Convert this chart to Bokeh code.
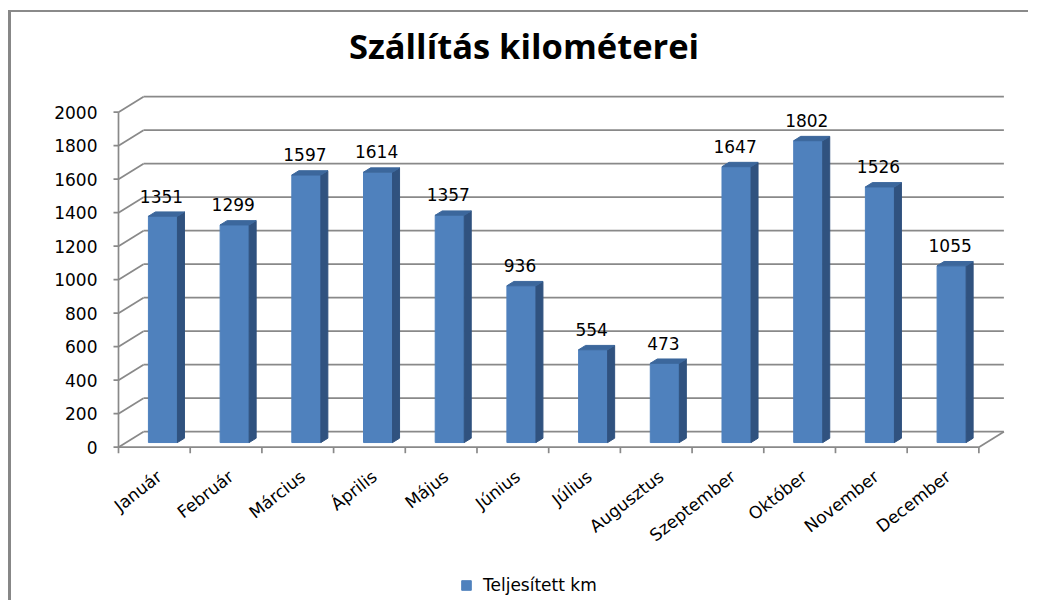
import math
from bokeh.plotting import figure
from bokeh.models import FixedTicker, Legend, LegendItem, Range1d, Label
from bokeh.embed import file_html
from bokeh.resources import INLINE
from bokeh.core.properties import value

# ---- data ----
title_text = "Szállítás kilométerei"
months = ["Január", "Február", "Március", "Április", "Május", "Június",
          "Július", "Augusztus", "Szeptember", "Október", "November", "December"]
km = [1351, 1299, 1597, 1614, 1357, 936, 554, 473, 1647, 1802, 1526, 1055]
y_ticks = [0, 200, 400, 600, 800, 1000, 1200, 1400, 1600, 1800, 2000]
series_name = "Teljesített km"

# ---- 3D geometry (depth expressed in data units) ----
DX = 0.349      # depth shift, category units
DY = 92.5       # depth shift, value units
F0, F1 = 0.30, 0.58   # bar front / back depth fraction
HW = 0.2025     # bar half width
CX = 0.515      # bar centre within category
PXY = 0.1675    # pixels per value unit (for small pixel offsets)
PXX = 71.7      # pixels per category

FRONT = "#4F81BD"
SIDE = "#30527F"
TOP = "#3C679C"
GRID = "#898989"
FONT = "DejaVu Sans"

W, H = 1020, 590
p = figure(width=W, height=H, output_backend="svg", toolbar_location=None,
           x_range=Range1d(-18 / PXX, 12.734), y_range=Range1d(-927.2, 2595.2),
           x_axis_location=None,
           min_border_left=89, min_border_right=0, min_border_top=0, min_border_bottom=0)
p.title.text = ""
p.styles = {"border-left": "3px solid #878787", "border-top": "2px solid #8a8a8a",
            "margin-top": "10px", "margin-left": "8px"}
p.xgrid.visible = False
p.ygrid.visible = False
p.outline_line_color = None
p.background_fill_color = "white"

n = len(y_ticks)
# back wall gridlines
p.segment(x0=[DX] * n, y0=[t + DY for t in y_ticks], x1=[12 + DX] * n, y1=[t + DY for t in y_ticks],
          line_color=GRID, line_width=1.7)
# side wall gridlines
p.segment(x0=[0] * n, y0=y_ticks, x1=[DX] * n, y1=[t + DY for t in y_ticks],
          line_color=GRID, line_width=1.7)
# right floor edge
p.segment(x0=[12], y0=[0], x1=[12 + DX], y1=[DY], line_color=GRID, line_width=1.7)

# value axis line and its outward ticks (front left edge)
p.segment(x0=[0], y0=[0], x1=[0], y1=[2000], line_color=GRID, line_width=1.7)
p.segment(x0=[0] * n, y0=y_ticks, x1=[-5 / PXX] * n, y1=y_ticks, line_color=GRID, line_width=1.7)

# category axis (front floor edge) with boundary ticks
ncat = len(months)
p.segment(x0=[0], y0=[0], x1=[ncat], y1=[0], line_color=GRID, line_width=1.7)
p.segment(x0=list(range(ncat + 1)), y0=[0] * (ncat + 1), x1=list(range(ncat + 1)),
          y1=[-6 / PXY] * (ncat + 1), line_color=GRID, line_width=1.7)
p.text(x=[i + 0.57 for i in range(ncat)], y=[-27 / PXY] * ncat, text=months,
       angle=math.radians(38), text_align="right", text_baseline="middle",
       text_font=value(FONT), text_font_size="17px", text_color="#000000")

# bars
xc = [i + CX for i in range(len(km))]
fl = [c - HW + F0 * DX for c in xc]
fr = [c + HW + F0 * DX for c in xc]
fb = [F0 * DY] * len(km)
ft = [v + F0 * DY for v in km]
dd = (F1 - F0)
side_xs = [[r, r + dd * DX, r + dd * DX, r] for r in fr]
side_ys = [[F0 * DY, F1 * DY, v + F1 * DY, v + F0 * DY] for v in km]
top_xs = [[l, l + dd * DX, r + dd * DX, r] for l, r in zip(fl, fr)]
top_ys = [[v + F0 * DY, v + F1 * DY, v + F1 * DY, v + F0 * DY] for v in km]

front = p.quad(left=fl, right=fr, bottom=fb, top=ft, fill_color=FRONT, line_color=FRONT)
p.patches(xs=side_xs, ys=side_ys, fill_color=SIDE, line_color=SIDE)
p.patches(xs=top_xs, ys=top_ys, fill_color=TOP, line_color=TOP)

# data labels
lx = [(l + r) / 2 - 0.02 for l, r in zip(fl, fr)]
ly = [v + F1 * DY + 95 for v in km]
p.text(x=lx, y=ly, text=[str(v) for v in km], text_align="center", text_baseline="alphabetic",
       text_font=value(FONT), text_font_size="17px", text_color="#000000")

# y axis (labels only; the line and ticks are drawn at x = 0 above)
ya = p.yaxis[0]
ya.ticker = FixedTicker(ticks=y_ticks)
ya.axis_line_color = None
ya.major_tick_line_color = None
ya.major_tick_out = 0
ya.major_tick_in = 0
ya.minor_tick_line_color = None
ya.major_label_standoff = 3
ya.major_label_text_font = FONT
ya.major_label_text_font_size = "17px"
ya.major_label_text_color = "#000000"

# title (screen units relative to the plot frame's bottom-left)
title = Label(x=423.5, y=557, x_units="screen", y_units="screen", text=title_text,
              text_align="center", text_baseline="alphabetic", text_font="Open Sans",
              text_font_style="bold", text_font_size="34.5px", text_color="#000000")
p.add_layout(title)

# legend
legend = Legend(items=[LegendItem(label=series_name, renderers=[front])],
                location=(360, 7), orientation="horizontal",
                glyph_width=12, glyph_height=12, label_standoff=11,
                padding=0, margin=0, border_line_color=None, background_fill_alpha=0,
                label_text_font=FONT, label_text_font_size="17px", label_text_color="#000000")
p.add_layout(legend)

open("out.html", "w").write(file_html(p, INLINE))
